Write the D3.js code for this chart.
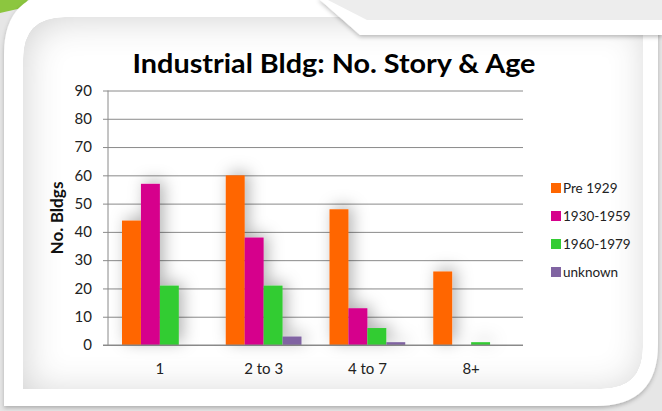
<!DOCTYPE html>
<html><head><meta charset="utf-8">
<script src="https://cdn.jsdelivr.net/npm/d3@7"></script>
<style>html,body{margin:0;padding:0;background:#e6e6e6;}svg{display:block;}</style>
</head><body>
<svg id="c" width="662" height="411"></svg>
<script>
const categories = ["1", "2 to 3", "4 to 7", "8+"];
const seriesNames = ["Pre 1929", "1930-1959", "1960-1979", "unknown"];
const pre1929 = [44, 60, 48, 26];
const s1930_1959 = [57, 38, 13, 0];
const s1960_1979 = [21, 21, 6, 1];
const unknown = [0, 3, 1, 0];
const seriesValues = [pre1929, s1930_1959, s1960_1979, unknown];
const colors = ["#FF6600", "#D6008C", "#33CC33", "#8064A2"];
const yTicks = [0, 10, 20, 30, 40, 50, 60, 70, 80, 90];
const title = "Industrial Bldg: No. Story & Age";
const yTitle = "No. Bldgs";

const svg = d3.select("#c");
const font = "Lato, 'Open Sans', sans-serif";
const defs = svg.append("defs");

// inner shadow for panel
const inner = defs.append("filter").attr("id","inner").attr("x","-5%").attr("y","-5%").attr("width","110%").attr("height","110%");
inner.append("feGaussianBlur").attr("in","SourceAlpha").attr("stdDeviation",18).attr("result","blur");
inner.append("feOffset").attr("in","blur").attr("dx",3).attr("dy",3).attr("result","ob");
inner.append("feComposite").attr("in","SourceAlpha").attr("in2","ob").attr("operator","arithmetic").attr("k2",1).attr("k3",-1).attr("result","edge");
inner.append("feFlood").attr("flood-color","#000").attr("flood-opacity",0.36);
inner.append("feComposite").attr("in2","edge").attr("operator","in").attr("result","sh");
const im = inner.append("feMerge");
im.append("feMergeNode").attr("in","SourceGraphic");
im.append("feMergeNode").attr("in","sh");

// drop shadow
const ds = defs.append("filter").attr("id","ds").attr("x","-20%").attr("y","-20%").attr("width","140%").attr("height","160%");
ds.append("feGaussianBlur").attr("in","SourceAlpha").attr("stdDeviation",2);
ds.append("feOffset").attr("dx",0).attr("dy",2).attr("result","o");
ds.append("feFlood").attr("flood-color","#000").attr("flood-opacity",0.25);
ds.append("feComposite").attr("in2","o").attr("operator","in");
const dm = ds.append("feMerge"); dm.append("feMergeNode"); dm.append("feMergeNode").attr("in","SourceGraphic");

// bar shadow
const bs = defs.append("filter").attr("id","bs").attr("x","-80%").attr("y","-30%").attr("width","260%").attr("height","150%");
bs.append("feGaussianBlur").attr("in","SourceAlpha").attr("stdDeviation",8);
bs.append("feOffset").attr("dx",4).attr("dy",-3).attr("result","o");
bs.append("feFlood").attr("flood-color","#000").attr("flood-opacity",0.3);
bs.append("feComposite").attr("in2","o").attr("operator","in");
const bm = bs.append("feMerge"); bm.append("feMergeNode"); bm.append("feMergeNode").attr("in","SourceGraphic");

// background decorations
svg.append("rect").attr("width",662).attr("height",411).attr("fill","#e6e6e6");
svg.append("path").attr("d","M0,0 L28,0 L22,8 L0,13 Z").attr("fill","#8CC63F");

function roundedPath(x0,y0,x1,y1,rtl,rbr){
  return `M${x0},${y0+rtl} Q${x0},${y0} ${x0+rtl},${y0} L${x1},${y0} L${x1},${y1-rbr} Q${x1},${y1} ${x1-rbr},${y1} L${x0},${y1} Z`;
}
svg.append("path").attr("d",roundedPath(4,-8,658,406,62,62)).attr("fill","#ffffff").attr("filter","url(#ds)");
svg.append("path").attr("d",roundedPath(23,17,643,389,42,42)).attr("fill","#ffffff").attr("filter","url(#inner)");

// tab at top right
svg.append("path").attr("d","M318,-2 L662,-2 L662,35 L360,35 Z").attr("fill","#ffffff").attr("filter","url(#ds)");
svg.append("path").attr("d","M324,-2 L662,-2 L662,20 L367,20 Z").attr("fill","#ededed");

// title
svg.append("text").attr("x",334).attr("y",73).attr("text-anchor","middle")
  .attr("font-family",font).attr("font-weight","bold").attr("font-size",26)
  .attr("textLength",403).attr("lengthAdjust","spacingAndGlyphs")
  .attr("fill","#000").text(title);

// scales
const plotL = 108, plotR = 523, plotT = 90.5, plotB = 345;
const x0 = d3.scaleBand().domain(categories).range([plotL, plotR]).padding(0);
const x1 = d3.scaleBand().domain(seriesNames).range([14, x0.bandwidth()-14]).padding(0);
const y = d3.scaleLinear().domain([0, 90]).range([plotB, plotT]);

// gridlines + y ticks
const yAxis = d3.axisLeft(y).tickValues(yTicks).tickSize(-(plotR - plotL) - 5).tickSizeOuter(0).tickPadding(10);
const gy = svg.append("g").attr("transform",`translate(${plotL},0)`).call(yAxis);
gy.select(".domain").remove();
gy.selectAll(".tick line").attr("stroke","#8a8a8a").attr("stroke-width",1).attr("x1",-5).attr("x2",plotR-plotL);
gy.selectAll(".tick text").attr("font-family",font).attr("font-size",15).attr("fill","#222").attr("x",-16);
svg.append("line").attr("x1",plotL).attr("x2",plotL).attr("y1",plotT).attr("y2",plotB).attr("stroke","#8a8a8a");

// bars
const bars = svg.append("g").attr("filter","url(#bs)");
seriesNames.forEach((s, si) => {
  bars.selectAll(null).data(categories.map((c, ci) => ({c, v: seriesValues[si][ci]})).filter(d => d.v > 0))
    .enter().append("rect")
    .attr("x", d => x0(d.c) + x1(s))
    .attr("y", d => y(d.v))
    .attr("width", x1.bandwidth())
    .attr("height", d => plotB - y(d.v))
    .attr("fill", colors[si]);
});
svg.append("line").attr("x1",plotL-5).attr("x2",plotR).attr("y1",plotB).attr("y2",plotB).attr("stroke","#8a8a8a");

// x labels
const xAxis = d3.axisBottom(x0).tickSize(0).tickPadding(0);
const gx = svg.append("g").attr("transform",`translate(0,${plotB})`).call(xAxis);
gx.select(".domain").remove();
gx.selectAll(".tick text").attr("font-family",font).attr("font-size",15).attr("fill","#222").attr("dy",0).attr("y",29);

// y title
svg.append("text").attr("transform",`translate(63,218) rotate(-90)`).attr("text-anchor","middle")
  .attr("font-family",font).attr("font-weight","bold").attr("font-size",17).attr("fill","#111")
  .attr("textLength",73).attr("lengthAdjust","spacingAndGlyphs").text(yTitle);

// legend
const lg = svg.append("g");
seriesNames.forEach((s, i) => {
  const cy = 188 + i * 28;
  lg.append("rect").attr("x",551).attr("y",cy-5).attr("width",10).attr("height",10).attr("fill",colors[i]);
  lg.append("text").attr("x",563).attr("y",cy+5).attr("font-family",font).attr("font-size",13.5).attr("fill","#222").text(s);
});
</script>
</body></html>
